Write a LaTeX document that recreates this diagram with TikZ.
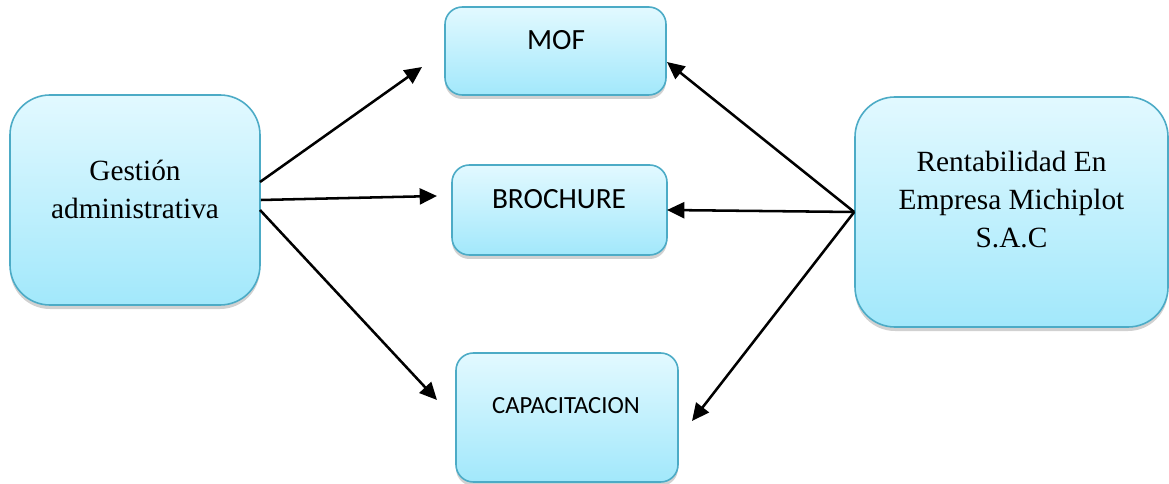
\documentclass[tikz,border=0pt]{standalone}
\usepackage{fontspec}
\setmainfont{Liberation Serif}
\newfontfamily\calibri{Carlito}
\usetikzlibrary{arrows.meta}
\usetikzlibrary{shadows}
\definecolor{boxtop}{HTML}{E2F9FF}
\definecolor{boxbot}{HTML}{A2E8FB}
\definecolor{boxline}{HTML}{4CABC6}

\begin{document}
\begin{tikzpicture} [x=.75pt, y=-.75pt,
  box/.style={draw=boxline, line width=1.2pt, top color=boxtop, bottom color=boxbot,
    drop shadow={shadow xshift=0pt, shadow yshift=-3pt, fill=black!60, opacity=.3},
    inner sep=0, rounded corners=#1},
  box/.default=13pt,
  link/.style={black, line width=1.9pt, -{Triangle[length=13pt, width=12pt]}}]
\useasboundingbox (0,0) rectangle (1169,484);
% cajas
\node[box=30pt, minimum width=187.5pt, minimum height=157.5pt] (ga)  at (135,200)    {};
\node[box=30pt, minimum width=234.75pt, minimum height=172.5pt] (ren) at (1011.5,212) {};
\node[box, minimum width=165.75pt, minimum height=66pt]   (mof) at (555.5,51)  {};
\node[box, minimum width=161.25pt, minimum height=67.5pt] (bro) at (559.5,210) {};
\node[box, minimum width=166.5pt, minimum height=96.75pt] (cap) at (567,417.5)  {};
% textos
\node[align=center, inner sep=0, font=\fontsize{22}{28.5}\selectfont] (gatxt) at (135,189) {Gesti\'on\\administrativa};
\node[align=center, inner sep=0, font=\fontsize{22}{28.5}\selectfont] (rentxt) at (1011.5,200) {Rentabilidad En\\Empresa Michiplot\\S.A.C};
\node[inner sep=0, font=\calibri\fontsize{22}{26}\selectfont] (moftxt) at (556,40.5) {MOF};
\node[inner sep=0, font=\calibri\fontsize{22}{26}\selectfont] (brotxt) at (559,199) {BROCHURE};
\node[inner sep=0, font=\calibri\fontsize{18.5}{22}\selectfont] (captxt) at (566,405.5) {CAPACITACION};
% puntas
\coordinate (ga1) at (260,182);
\coordinate (ga3) at (260,210);
\coordinate (mofL) at (422,67);
\coordinate (broL) at (437,196);
\coordinate (capL) at (437,400);
\coordinate (mofR) at (667,62);
\coordinate (broR) at (667,210);
\coordinate (capR) at (692,421);
\draw[link] (ga1) -- (mofL);
\draw[link] (ga.east) -- (broL);
\draw[link] (ga3) -- (capL);
\foreach \t in {mofR,broR,capR}
 \draw[link] (ren.west) -- (\t);
\end{tikzpicture}
\end{document}
